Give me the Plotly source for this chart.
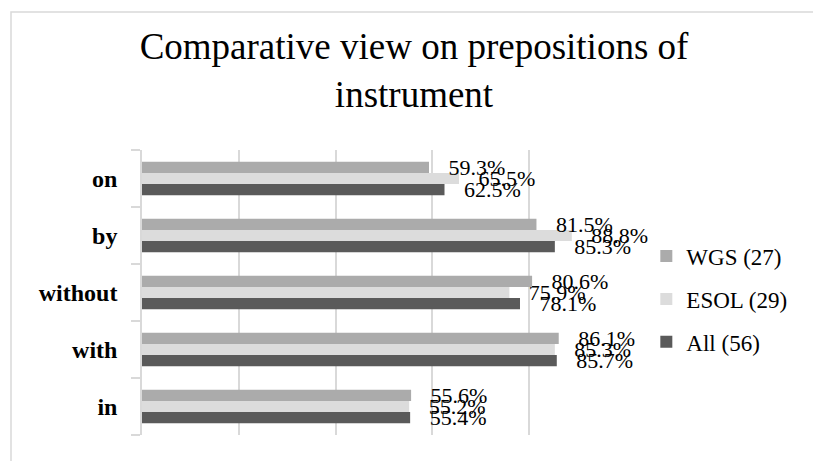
import plotly.graph_objects as go

categories = ["in", "with", "without", "by", "on"]
wgs = [0.556, 0.861, 0.806, 0.815, 0.593]
esol = [0.552, 0.853, 0.759, 0.888, 0.655]
all_ = [0.554, 0.857, 0.781, 0.853, 0.625]

series = [
    ("All (56)", all_, "#5a5a5a", 3),
    ("ESOL (29)", esol, "#dcdcdc", 2),
    ("WGS (27)", wgs, "#ababab", 1),
]

FONT = "Times New Roman, Liberation Serif, serif"
PAD = "\u00a0\u00a0\u00a0"

fig = go.Figure()
for name, vals, color, rank in series:
    fig.add_trace(go.Bar(
        y=categories, x=vals, name=name, orientation="h",
        marker=dict(color=color, line=dict(width=0)),
        text=[PAD + f"{v*100:.1f}%" for v in vals],
        textposition="outside", constraintext="none", cliponaxis=False,
        textfont=dict(family=FONT, size=22, color="#000000"),
        legendgroup=name, legendrank=rank,
    ))

fig.update_layout(
    width=813, height=461,
    margin=dict(l=142, r=187, t=150, b=26),
    paper_bgcolor="white", plot_bgcolor="white",
    barmode="group", bargap=0.41, bargroupgap=0,
    font=dict(family=FONT, color="#000000"),
    title=dict(
        text="Comparative view on prepositions of<br>instrument",
        x=414 / 813, xanchor="center", xref="container",
        y=1 - 59 / 461, yanchor="top", yref="container",
        font=dict(family=FONT, size=37, color="#000000"),
    ),
    xaxis=dict(range=[0, 1], dtick=0.2, showticklabels=False,
               showgrid=True, gridcolor="#d9d9d9", gridwidth=1.5,
               zeroline=False, showline=False, fixedrange=True),
    yaxis=dict(showline=True, linecolor="#d9d9d9", linewidth=1.5,
               ticks="outside", tickson="boundaries", ticklen=9,
               tickcolor="#d9d9d9", tickwidth=1.5,
               ticklabelstandoff=18,
               tickfont=dict(family=FONT, size=24, weight="bold", color="#000000"),
               showgrid=False, zeroline=False),
    legend=dict(x=1.042, xanchor="left", y=0.477, yanchor="middle",
                font=dict(family=FONT, size=23, color="#000000"),
                tracegroupgap=10, itemwidth=30, bgcolor="rgba(0,0,0,0)"),
    showlegend=True,
    shapes=[dict(type="rect", xref="paper", yref="paper",
                 x0=(11 - 142) / 484, x1=1.5, y0=-0.2, y1=(435 - 12) / 285,
                 line=dict(color="#d9d9d9", width=1.5), fillcolor="rgba(0,0,0,0)",
                 layer="below")],
)

fig.write_html("out.html")
